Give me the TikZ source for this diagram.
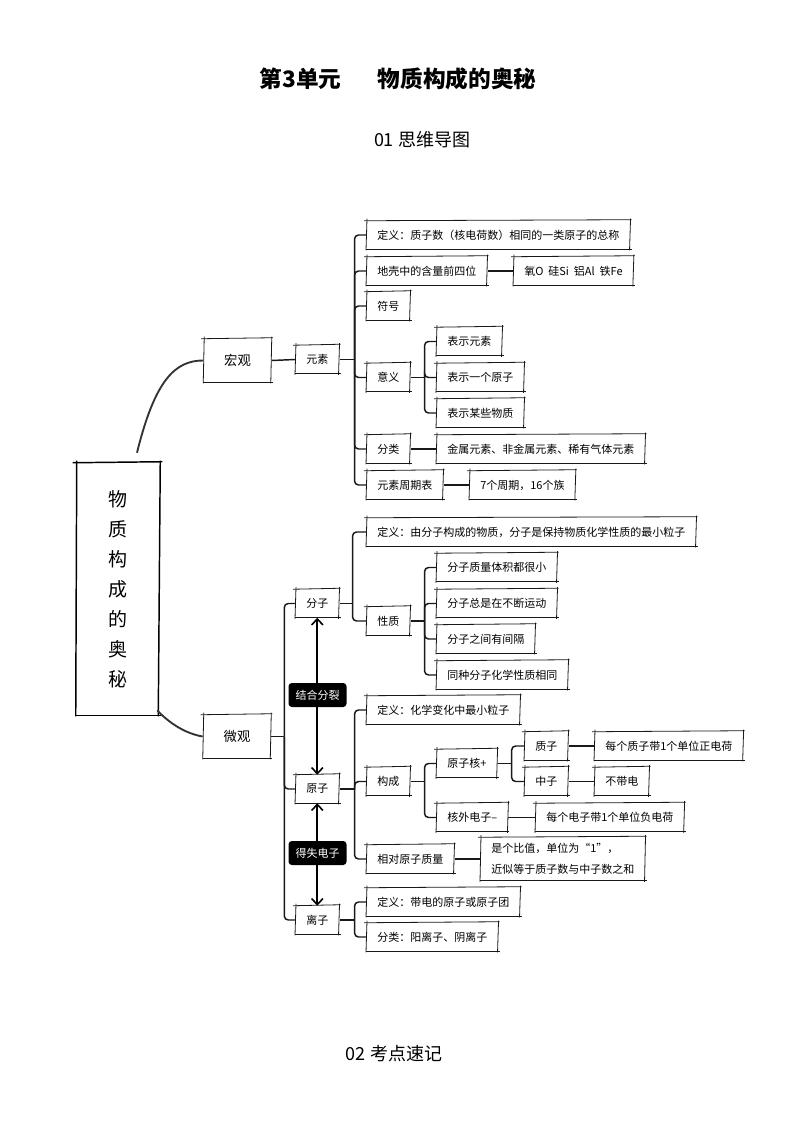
\documentclass[tikz,border=0pt]{standalone}
\usepackage{fontspec}
\setmainfont{Noto Sans CJK SC}
\usetikzlibrary{calc,arrows.meta}
\newcommand\fsb{\fontsize{8.25pt}{10pt}\selectfont}
\newcommand\brnch[3]{%
  \draw[ln] (#1.east) -- ++(#2,0) coordinate (#1T);
  \foreach \c in {#3}{\draw[ln,rounded corners=3pt] (#1T) |- (\c.west);}}
\begin{document}
\begin{tikzpicture}[x=0.75pt,y=-0.75pt]
\tikzset{
 skl/.style={draw=black!90, line width=0.6pt},
 sklt/.style={draw=black, line width=1.1pt},
 sk/.style={append after command={\pgfextra{\let\skn\tikzlastnode}
   ($(\skn.north west)+(-2,0)$) edge[skl] ($(\skn.north east)+(1,-1)$)
   ($(\skn.north east)+(0,-2)$) edge[skl] ($(\skn.south east)+(-1,1)$)
   ($(\skn.south east)+(1,0)$) edge[skl] ($(\skn.south west)+(0,0)$)
   ($(\skn.south west)+(0,1)$) edge[skl] ($(\skn.north west)+(1,-2)$)}},
 skthick/.style={append after command={\pgfextra{\let\skn\tikzlastnode}
   ($(\skn.north west)+(-3,0)$) edge[sklt] ($(\skn.north east)+(2,-1)$)
   ($(\skn.north east)+(0,-2)$) edge[sklt] ($(\skn.south east)+(-2,1)$)
   ($(\skn.south east)+(1,0)$) edge[sklt] ($(\skn.south west)+(0,0)$)
   ($(\skn.south west)+(0,1)$) edge[sklt] ($(\skn.north west)+(1,-2)$)}},
 bx/.style={sk, anchor=west, font=\fsb, inner xsep=8.25pt, inner ysep=0pt, minimum height=21pt},
 ln/.style={draw=black!90, line width=1.1pt},
 cv/.style={draw=black!80, line width=1.4pt},
 lab/.style={fill=black, text=white, rounded corners=2.5pt, font=\fsb, inner xsep=5.25pt, inner ysep=0pt, minimum height=18pt},
 ar/.style={draw=black, line width=1.2pt, {Straight Barb[length=4.5pt,width=8.5pt]}-{Straight Barb[length=4.5pt,width=8.5pt]}},
}
\fill[white] (0,0) rectangle (794,1123);

% titles
\node[font=\fontsize{17pt}{20pt}\selectfont\bfseries, anchor=west] (t1) at (255,79) {第3单元};
\node[font=\fontsize{17pt}{20pt}\selectfont\bfseries, anchor=west] (t2) at (373,79) {物质构成的奥秘};
\node[font=\fontsize{13.5pt}{16pt}\selectfont] (s1) at (422,140) {01 思维导图};
\node[font=\fontsize{13.5pt}{16pt}\selectfont] (s2) at (394,1054) {02 考点速记};

% main
\node[skthick, minimum width=63pt, minimum height=189pt, font=\fontsize{14.25pt}{22.5pt}\selectfont, align=center] (main) at (118,589) {物\\质\\构\\成\\的\\奥\\秘};
\node[sk, minimum width=51pt, minimum height=32.25pt, font=\fontsize{10pt}{12pt}\selectfont] (hong) at (237.5,360.5) {宏观};
\node[sk, minimum width=51pt, minimum height=32.25pt, font=\fontsize{10pt}{12pt}\selectfont] (wei) at (237,736.5) {微观};

\draw[cv] ($(main.north)+(19,-10)$) .. controls ($(main.north)+(37,-83)$) and ($(hong.west)+(-28,0)$) .. (hong.west);
\draw[cv] ($(main.south east)+(-3,-5)$) .. controls ($(main.south east)+(8,7)$) and ($(wei.west)+(-18,-3)$) .. (wei.west);

% macro branch
\node[bx] (ys) at (295,359.5) {元素};
\draw[ln] (hong.east) -- (ys.west);
\node[bx] (e1) at (366,235) {定义：质子数（核电荷数）相同的一类原子的总称};
\node[bx] (e2) at (366,271) {地壳中的含量前四位};
\node[bx] (e2b) at (513,271) {氧O\ \ 硅Si\ \ 铝Al\ \ 铁Fe};
\node[bx] (e3) at (366,306) {符号};
\node[bx] (e4) at (366,377.5) {意义};
\node[bx] (e4a) at (436,341.5) {表示元素};
\node[bx] (e4b) at (436,377.5) {表示一个原子};
\node[bx] (e4c) at (436,413) {表示某些物质};
\node[bx] (e5) at (366,449) {分类};
\node[bx] (e5b) at (436,449) {金属元素、非金属元素、稀有气体元素};
\node[bx] (e6) at (366,485) {元素周期表};
\node[bx] (e6b) at (469,485) {7个周期，16个族};
\brnch{ys}{15}{e1,e2,e3,e4,e5,e6}
\brnch{e4}{14}{e4a,e4b,e4c}
\draw[ln] (e2.east) -- (e2b.west);
\draw[ln] (e5.east) -- (e5b.west);
\draw[ln] (e6.east) -- (e6b.west);

% micro branch
\node[bx] (fz) at (295,603.5) {分子};
\node[bx] (yz) at (295,789) {原子};
\node[bx] (lz) at (295,920) {离子};
\brnch{wei}{13}{fz,yz,lz}
\draw[ar] (fz.south) -- (yz.north);
\draw[ar] (yz.south) -- (lz.north);
\node[lab] (jh) at (317.5,695) {结合分裂};
\node[lab] (ds) at (317.5,853) {得失电子};

\node[bx] (m1) at (366,532) {定义：由分子构成的物质，分子是保持物质化学性质的最小粒子};
\node[bx] (m2) at (366,621) {性质};
\node[bx] (m2a) at (436,567.5) {分子质量体积都很小};
\node[bx] (m2b) at (436,603.5) {分子总是在不断运动};
\node[bx] (m2c) at (436,639) {分子之间有间隔};
\node[bx] (m2d) at (436,675) {同种分子化学性质相同};
\brnch{fz}{13}{m1,m2}
\brnch{m2}{14}{m2a,m2b,m2c,m2d}

\node[bx] (a1) at (366,710) {定义：化学变化中最小粒子};
\node[bx] (a2) at (366,781.5) {构成};
\node[bx] (a2a) at (436,763.5) {原子核+};
\node[bx] (p1) at (524,746) {质子};
\node[bx] (p1b) at (594,746) {每个质子带1个单位正电荷};
\node[bx] (n1) at (524,781.5) {中子};
\node[bx] (n1b) at (594,781.5) {不带电};
\node[bx] (a2b) at (436,817.5) {核外电子–};
\node[bx] (a2bb) at (535,817.5) {每个电子带1个单位负电荷};
\node[bx] (a3) at (366,859) {相对原子质量};
\node[bx, align=left, minimum height=32.25pt, font=\fontsize{8.25pt}{15.5pt}\selectfont] (a3b) at (480,859) {是个比值，单位为“1”，\\近似等于质子数与中子数之和};
\brnch{yz}{15}{a1,a2,a3}
\brnch{a2}{14}{a2a,a2b}
\brnch{a2a}{14}{p1,n1}
\draw[ln] (p1.east) -- (p1b.west);
\draw[ln] (n1.east) -- (n1b.west);
\draw[ln] (a2b.east) -- (a2bb.west);
\draw[ln] (a3.east) -- (a3b.west);

\node[bx] (l1) at (366,902) {定义：带电的原子或原子团};
\node[bx] (l2) at (366,937) {分类：阳离子、阴离子};
\brnch{lz}{15}{l1,l2}
\end{tikzpicture}
\end{document}
